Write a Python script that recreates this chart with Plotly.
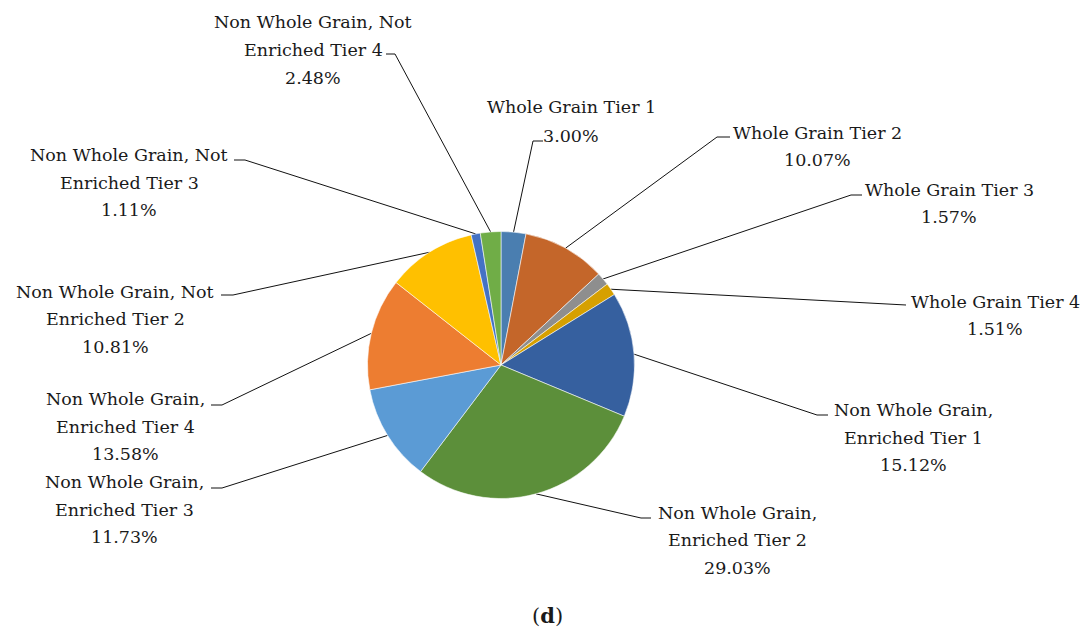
import numpy as np
import plotly.graph_objects as go

# ---------------- data ----------------
categories = [
    "Whole Grain Tier 1",
    "Whole Grain Tier 2",
    "Whole Grain Tier 3",
    "Whole Grain Tier 4",
    "Non Whole Grain, Enriched Tier 1",
    "Non Whole Grain, Enriched Tier 2",
    "Non Whole Grain, Enriched Tier 3",
    "Non Whole Grain, Enriched Tier 4",
    "Non Whole Grain, Not Enriched Tier 2",
    "Non Whole Grain, Not Enriched Tier 3",
    "Non Whole Grain, Not Enriched Tier 4",
]
shares = [3.00, 10.07, 1.57, 1.51, 15.12, 29.03, 11.73, 13.58, 10.81, 1.11, 2.48]
label_lines = [
    ["Whole Grain Tier 1"],
    ["Whole Grain Tier 2"],
    ["Whole Grain Tier 3"],
    ["Whole Grain Tier 4"],
    ["Non Whole Grain,", "Enriched Tier 1"],
    ["Non Whole Grain,", "Enriched Tier 2"],
    ["Non Whole Grain,", "Enriched Tier 3"],
    ["Non Whole Grain,", "Enriched Tier 4"],
    ["Non Whole Grain, Not", "Enriched Tier 2"],
    ["Non Whole Grain, Not", "Enriched Tier 3"],
    ["Non Whole Grain, Not", "Enriched Tier 4"],
]
caption = "(<b>d</b>)"

# ---------------- styles / layout ----------------
colors = ["#4A7EB0", "#C4662A", "#8E8E8E", "#D6A000", "#36609F", "#5C8F3A",
          "#5B9BD5", "#ED7D31", "#FFC000", "#4472C4", "#70AD47"]
W, H = 1091, 630
PAD = 8  # page body margin: figure starts 8px into the window
cx, cy, R = 501, 365, 133.5   # pie centre/radius in window pixels
FONT = "DejaVu Serif"
FS = 17.5
TXT = "#1a1a1a"

# label placement (window px): text centre x, y of each line,
# dash (text-side x, pie-side x, y)
label_pos = [
    dict(x=571, ys=[107, 136], dash=(543, 533, 141)),
    dict(x=817, ys=[133, 160], dash=(730, 717, 137)),
    dict(x=949, ys=[190, 217], dash=(862, 851, 195)),
    dict(x=995, ys=[302, 329], dash=(906, 895, 305)),
    dict(x=913, ys=[410, 438, 465], dash=(828, 817, 415)),
    dict(x=737, ys=[513, 540, 568], dash=(651, 641, 518)),
    dict(x=124, ys=[482, 510, 537], dash=(211, 222, 488)),
    dict(x=125, ys=[399, 427, 454], dash=(211, 222, 405)),
    dict(x=115, ys=[292, 319, 347], dash=(221, 233, 295)),
    dict(x=129, ys=[155, 183, 210], dash=(234, 245, 160)),
    dict(x=313, ys=[22, 50, 78], dash=(386, 395, 54)),
]

fig = go.Figure()

fcx, fcy = cx - PAD, cy - PAD
fig.add_trace(go.Pie(
    labels=categories, values=shares, sort=False, direction="clockwise",
    rotation=0, textinfo="none", hoverinfo="label+percent",
    marker=dict(colors=colors, line=dict(color="rgba(255,255,255,0.8)", width=0.7)),
    domain=dict(x=[(fcx - R) / W, (fcx + R) / W],
                y=[(H - fcy - R) / H, (H - fcy + R) / H]),
    showlegend=False,
))

# leader lines computed from slice mid-angles
vals = np.array(shares, dtype=float)
frac = vals / vals.sum()
mids = (np.cumsum(frac) - frac / 2) * 2 * np.pi
annotations = []
for i, (lines, pos) in enumerate(zip(label_lines, label_pos)):
    th = mids[i]
    px, py = cx + R * np.sin(th), cy - R * np.cos(th)
    tx, ex, dy = pos["dash"]
    fig.add_trace(go.Scatter(
        x=[px, ex, tx], y=[py, dy, dy], mode="lines",
        line=dict(color="#111111", width=1), hoverinfo="skip",
        showlegend=False, xaxis="x", yaxis="y"))
    texts = lines + [f"{shares[i]:.2f}%"]
    for t, yy in zip(texts, pos["ys"]):
        annotations.append(dict(
            x=pos["x"], y=yy, xref="x", yref="y", text=t, showarrow=False,
            xanchor="center", yanchor="middle",
            font=dict(family=FONT, size=FS, color=TXT)))

annotations.append(dict(
    x=547, y=615, xref="x", yref="y", text=caption, showarrow=False,
    xanchor="center", yanchor="middle",
    font=dict(family=FONT, size=21, color=TXT)))

fig.update_layout(
    width=W, height=H,
    margin=dict(l=0, r=0, t=0, b=0),
    paper_bgcolor="white", plot_bgcolor="rgba(0,0,0,0)",
    xaxis=dict(range=[PAD, W + PAD], domain=[0, 1], visible=False, fixedrange=True),
    yaxis=dict(range=[H + PAD, PAD], domain=[0, 1], visible=False, fixedrange=True),
    annotations=annotations,
    font=dict(family=FONT),
)

fig.write_html("out.html")
